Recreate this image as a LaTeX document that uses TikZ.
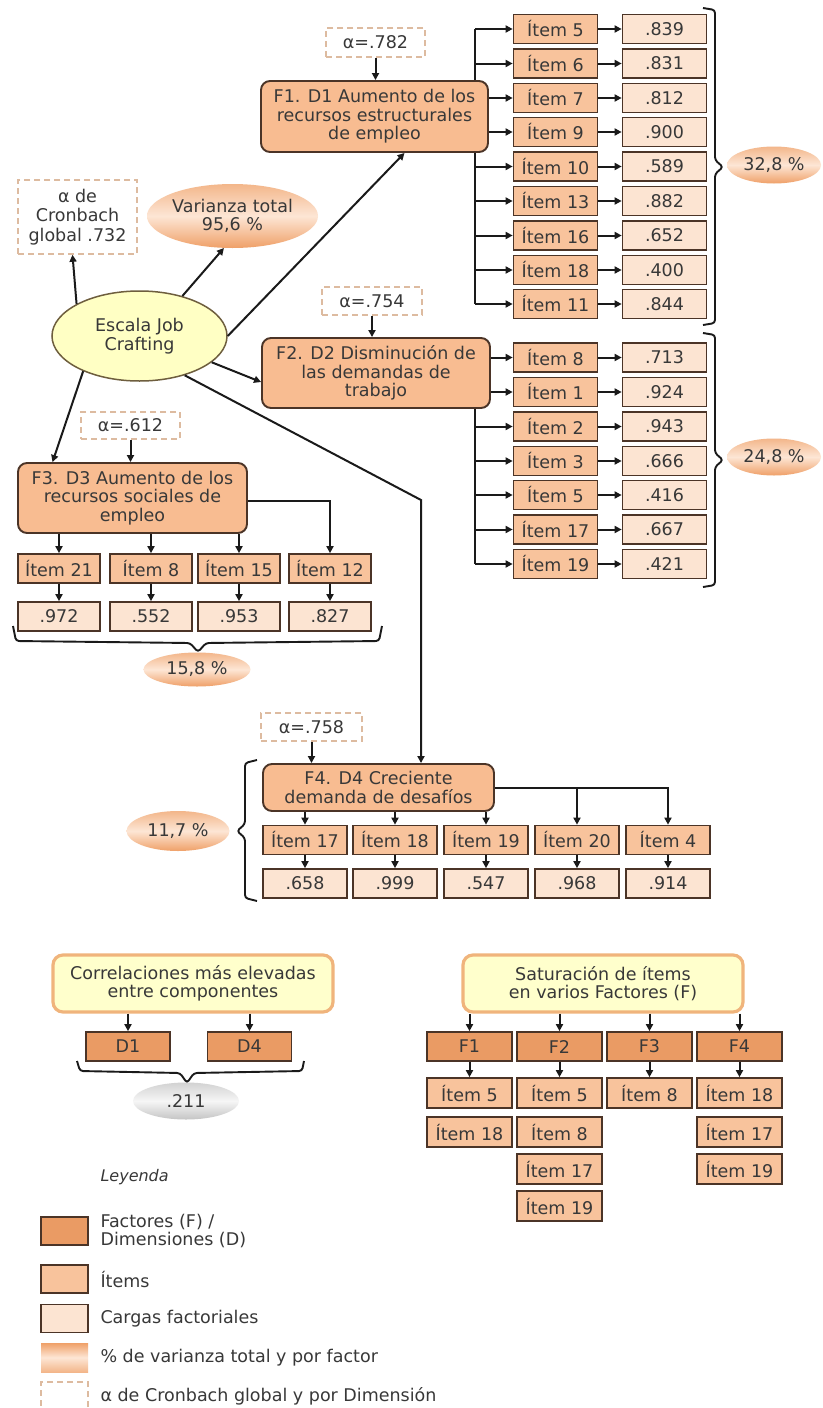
\documentclass[tikz,border=0pt]{standalone}
\usepackage{fontspec}
\setmainfont{DejaVu Sans}
\usepackage{tikz}
\usetikzlibrary{shapes.geometric,arrows.meta}

\definecolor{txtc}{HTML}{383838}
\definecolor{linec}{HTML}{1A1A1A}
\definecolor{brd}{HTML}{4B3427}
\definecolor{facfill}{HTML}{F8BC91}
\definecolor{dimfill}{HTML}{EA9B64}
\definecolor{itemfill}{HTML}{F8C39C}
\definecolor{loadfill}{HTML}{FCE4D2}
\definecolor{dashc}{HTML}{DDBBA0}
\definecolor{pcttop}{HTML}{F3B68A}
\definecolor{pctmid}{HTML}{FDE6D5}
\definecolor{pctbot}{HTML}{EFA068}
\definecolor{graytop}{HTML}{D2D2D2}
\definecolor{graymid}{HTML}{F6F6F6}
\definecolor{graybot}{HTML}{C4C4C4}
\definecolor{rootfill}{HTML}{FFFFC4}
\definecolor{rootbrd}{HTML}{6E5E3E}
\definecolor{ttlfill}{HTML}{FFFFCC}
\definecolor{ttlbrd}{HTML}{F0B47C}

\tikzset{
  factor/.style={draw=brd, line width=1.9pt, fill=facfill, rounded corners=9pt, align=center, inner sep=0pt},
  dimbox/.style={draw=brd, line width=1.7pt, fill=dimfill, minimum width=85pt, minimum height=29pt, inner sep=0pt},
  item/.style={draw=brd, line width=1.7pt, fill=itemfill, minimum width=84pt, minimum height=29pt, inner sep=0pt},
  load/.style={draw=brd, line width=1.7pt, fill=loadfill, minimum width=84pt, minimum height=29pt, inner sep=0pt},
  alpha/.style={draw=dashc, dash pattern=on 6pt off 4pt, line width=1.5pt, fill=white, align=center, inner sep=0pt},
  pct/.style={ellipse, inner sep=0pt, align=center, top color=pcttop, bottom color=pctbot, middle color=pctmid},
  root/.style={ellipse, draw=rootbrd, line width=1.5pt, fill=rootfill, align=center, inner sep=0pt},
  ttl/.style={draw=ttlbrd, line width=3.2pt, fill=ttlfill, rounded corners=10pt, align=center, minimum width=280pt, minimum height=57pt, inner sep=0pt},
  arr/.style={draw=linec, line width=2pt, -{Triangle[length=7pt,width=7pt]}},
  conn/.style={draw=linec, line width=2pt},
  brk/.style={draw=linec, line width=1.9pt, rounded corners=3pt},
  legtxt/.style={anchor=west, align=left}
}

\begin{document}
\begin{tikzpicture}[x=1pt,y=-1pt,font=\fontsize{17.5}{18.5}\selectfont,text=txtc]

        \useasboundingbox (0,0) rectangle (822,1408);
        \fill [white] (0,0) rectangle (822,1408);

        %Scale
        \node [root, minimum width=175pt, minimum height=90pt] (esc) at (139.5,336) {Escala Job\\Crafting};
        \node [alpha, minimum width=119pt, minimum height=74pt, font=\fontsize{17.5}{19.5}\selectfont] (aglob) at (77.5,217) {α de\\Cronbach\\global .732};
        \node [pct, minimum width=171pt, minimum height=64pt] (vtot) at (232.5,216) {Varianza total\\95,6 \%};

        %Factor 1
        \node [alpha, minimum width=99pt, minimum height=29pt] (a1) at (375.5,42.5) {α=.782};
        \node [factor, minimum width=227pt, minimum height=71pt] (F1) at (374.5,116.5) {F1. D1 Aumento de los\\recursos estructurales\\de empleo};
        \node [item] (f1i1) at (555.5,29) {Ítem 5};
        \node [item] (f1i2) at (555.5,63.5) {Ítem 6};
        \node [item] (f1i3) at (555.5,98) {Ítem 7};
        \node [item] (f1i4) at (555.5,132) {Ítem 9};
        \node [item] (f1i5) at (555.5,166.5) {Ítem 10};
        \node [item] (f1i6) at (555.5,201) {Ítem 13};
        \node [item] (f1i7) at (555.5,235.5) {Ítem 16};
        \node [item] (f1i8) at (555.5,270) {Ítem 18};
        \node [item] (f1i9) at (555.5,304) {Ítem 11};
        \node [load] (f1v1) at (664.5,29) {.839};
        \node [load] (f1v2) at (664.5,63.5) {.831};
        \node [load] (f1v3) at (664.5,98) {.812};
        \node [load] (f1v4) at (664.5,132) {.900};
        \node [load] (f1v5) at (664.5,166.5) {.589};
        \node [load] (f1v6) at (664.5,201) {.882};
        \node [load] (f1v7) at (664.5,235.5) {.652};
        \node [load] (f1v8) at (664.5,270) {.400};
        \node [load] (f1v9) at (664.5,304) {.844};
        \node [pct, minimum width=94pt, minimum height=37pt] (p1) at (774,165) {32,8 \%};

        %Factor 2
        \node [alpha, minimum width=100pt, minimum height=28pt] (a2) at (372,301) {α=.754};
        \node [factor, minimum width=228pt, minimum height=70pt] (F2) at (376,373) {F2. D2 Disminución de\\las demandas de\\trabajo};
        \node [item] (f2i1) at (555.5,357.5) {Ítem 8};
        \node [item] (f2i2) at (555.5,392) {Ítem 1};
        \node [item] (f2i3) at (555.5,426.5) {Ítem 2};
        \node [item] (f2i4) at (555.5,461) {Ítem 3};
        \node [item] (f2i5) at (555.5,495) {Ítem 5};
        \node [item] (f2i6) at (555.5,529.5) {Ítem 17};
        \node [item] (f2i7) at (555.5,564) {Ítem 19};
        \node [load] (f2v1) at (664.5,357.5) {.713};
        \node [load] (f2v2) at (664.5,392) {.924};
        \node [load] (f2v3) at (664.5,426.5) {.943};
        \node [load] (f2v4) at (664.5,461) {.666};
        \node [load] (f2v5) at (664.5,495) {.416};
        \node [load] (f2v6) at (664.5,529.5) {.667};
        \node [load] (f2v7) at (664.5,564) {.421};
        \node [pct, minimum width=94pt, minimum height=37pt] (p2) at (774,457) {24,8 \%};

        %Factor 3
        \node [alpha, minimum width=99pt, minimum height=27pt] (a3) at (130.5,425.5) {α=.612};
        \node [factor, minimum width=229pt, minimum height=70pt] (F3) at (132.5,498) {F3. D3 Aumento de los\\recursos sociales de\\empleo};
        \node [item, minimum width=82pt] (f3i1) at (59,568.5) {Ítem 21};
        \node [item, minimum width=82pt] (f3i2) at (151,568.5) {Ítem 8};
        \node [item, minimum width=82pt] (f3i3) at (239,568.5) {Ítem 15};
        \node [item, minimum width=82pt] (f3i4) at (330,568.5) {Ítem 12};
        \node [load, minimum width=82pt] (f3v1) at (59,616.5) {.972};
        \node [load, minimum width=82pt] (f3v2) at (151,616.5) {.552};
        \node [load, minimum width=82pt] (f3v3) at (239,616.5) {.953};
        \node [load, minimum width=82pt] (f3v4) at (330,616.5) {.827};
        \node [pct, minimum width=107pt, minimum height=34pt] (p3) at (197,669.5) {15,8 \%};

        %Factor 4
        \node [alpha, minimum width=101pt, minimum height=28pt] (a4) at (311.5,727) {α=.758};
        \node [factor, minimum width=231pt, minimum height=47pt] (F4) at (378.5,787.5) {F4. D4 Creciente\\demanda de desafíos};
        \node [item] (f4i1) at (305,840) {Ítem 17};
        \node [item] (f4i2) at (395,840) {Ítem 18};
        \node [item] (f4i3) at (486,840) {Ítem 19};
        \node [item] (f4i4) at (577,840) {Ítem 20};
        \node [item] (f4i5) at (668,840) {Ítem 4};
        \node [load] (f4v1) at (305,883.5) {.658};
        \node [load] (f4v2) at (395,883.5) {.999};
        \node [load] (f4v3) at (486,883.5) {.547};
        \node [load] (f4v4) at (577,883.5) {.968};
        \node [load] (f4v5) at (668,883.5) {.914};
        \node [pct, minimum width=103pt, minimum height=40pt] (p4) at (178,831) {11,7 \%};

        %Connectors from the scale
        \coordinate (bend) at (421,500);
        \draw [arr] (esc.153) -- ([xshift=-5pt]aglob.south);
        \draw [arr] (esc.43) -- (vtot.255);
        \draw [arr] (esc.east) -- ([xshift=30pt]F1.south);
        \draw [arr] (esc.-20) -- ([yshift=-9pt]F2.west);
        \draw [arr] (esc.212) -- ([xshift=-80pt]F3.north);
        \draw [arr] (esc.-41) -- (bend) -- (bend |- F4.north);

        %Connectors factor 1
        \coordinate (t1) at (475,29);
        \draw [arr] (a1.south) -- (a1.south |- F1.north);
        \draw [conn] (t1) -- (t1 |- F1.north);
        \draw [conn] (t1 |- F1.south) -- (t1 |- f1i9);
        \draw [arr] (t1) -- (f1i1.west);
        \draw [arr] (t1 |- f1i2) -- (f1i2.west);
        \draw [arr] (F1.east |- f1i3) -- (f1i3.west);
        \draw [arr] (F1.east |- f1i4) -- (f1i4.west);
        \draw [arr] (t1 |- f1i5) -- (f1i5.west);
        \draw [arr] (t1 |- f1i6) -- (f1i6.west);
        \draw [arr] (t1 |- f1i7) -- (f1i7.west);
        \draw [arr] (t1 |- f1i8) -- (f1i8.west);
        \draw [arr] (t1 |- f1i9) -- (f1i9.west);
        \draw [arr] (f1i1) -- (f1v1);
        \draw [arr] (f1i2.east) -- (f1v2.west);
        \draw [arr] (f1i3.east) -- (f1v3.west);
        \draw [arr] (f1i4.east) -- (f1v4.west);
        \draw [arr] (f1i5.east) -- (f1v5.west);
        \draw [arr] (f1i6.east) -- (f1v6.west);
        \draw [arr] (f1i7.east) -- (f1v7.west);
        \draw [arr] (f1i8.east) -- (f1v8.west);
        \draw [arr] (f1i9.east) -- (f1v9.west);
        \draw [brk] (703,8) -- (715,10) -- (715,160) -- (723,167) -- (715,174) -- (715,323) -- (703,325);

        %Connectors factor 2
        \coordinate (t2) at (475,408);
        \draw [arr] (a2.south) -- (a2.south |- F2.north);
        \draw [conn] (t2 |- F2.south) -- (t2 |- f2i7);
        \draw [arr] (F2.east |- f2i1) -- (f2i1.west);
        \draw [arr] (F2.east |- f2i2) -- (f2i2.west);
        \draw [arr] (t2 |- f2i3) -- (f2i3.west);
        \draw [arr] (t2 |- f2i4) -- (f2i4.west);
        \draw [arr] (t2 |- f2i5) -- (f2i5.west);
        \draw [arr] (t2 |- f2i6) -- (f2i6.west);
        \draw [arr] (t2 |- f2i7) -- (f2i7.west);
        \draw [arr] (f2i1.east) -- (f2v1.west);
        \draw [arr] (f2i2.east) -- (f2v2.west);
        \draw [arr] (f2i3.east) -- (f2v3.west);
        \draw [arr] (f2i4.east) -- (f2v4.west);
        \draw [arr] (f2i5.east) -- (f2v5.west);
        \draw [arr] (f2i6.east) -- (f2v6.west);
        \draw [arr] (f2i7.east) -- (f2v7.west);
        \draw [brk] (703,333) -- (715,335) -- (715,453) -- (723,460) -- (715,467) -- (715,585) -- (703,587);

        %Connectors factor 3
        \draw [arr] (a3.south) -- (a3.south |- F3.north);
        \draw [arr] (F3.south -| f3i1) -- (f3i1.north);
        \draw [arr] (F3.south -| f3i2) -- (f3i2.north);
        \draw [arr] (F3.south -| f3i3) -- (f3i3.north);
        \draw [arr] ([yshift=-3pt]F3.east) -| (f3i4.north);
        \draw [arr] (f3i1.south) -- (f3v1.north);
        \draw [arr] (f3i2.south) -- (f3v2.north);
        \draw [arr] (f3i3.south) -- (f3v3.north);
        \draw [arr] (f3i4.south) -- (f3v4.north);
        \draw [brk] (13,626) -- (16,641) -- (190,643) -- (198,652) -- (206,643) -- (379,641) -- (382,626);

        %Connectors factor 4
        \draw [arr] (a4.south) -- (a4.south |- F4.north);
        \draw [arr] (F4.south -| f4i1) -- (f4i1.north);
        \draw [arr] (F4.south -| f4i2) -- (f4i2.north);
        \draw [arr] (F4.south -| f4i3) -- (f4i3.north);
        \draw [arr] (F4.east) -| (f4i5.north);
        \draw [arr] (F4.east -| f4i4) -- (f4i4.north);
        \draw [arr] (f4i1.south) -- (f4v1.north);
        \draw [arr] (f4i2.south) -- (f4v2.north);
        \draw [arr] (f4i3.south) -- (f4v3.north);
        \draw [arr] (f4i4.south) -- (f4v4.north);
        \draw [arr] (f4i5.south) -- (f4v5.north);
        \draw [brk] (257,760) -- (245,763) -- (245,824) -- (237,831) -- (245,838) -- (245,898) -- (257,901);

        %Correlations
        \node [ttl] (corr) at (193,983.5) {Correlaciones más elevadas\\entre componentes};
        \node [dimbox, minimum width=84pt] (d1) at (128,1046.5) {D1};
        \node [dimbox, minimum width=84pt] (d4) at (249.5,1046.5) {D4};
        \node [ellipse, minimum width=106pt, minimum height=37pt, inner sep=0pt, top color=graytop, bottom color=graybot, middle color=graymid] (rcor) at (186,1101) {.211};
        \draw [arr] (corr.south -| d1) -- (d1.north);
        \draw [arr] (corr.south -| d4) -- (d4.north);
        \draw [brk] (77,1061) -- (80,1071) -- (180,1073) -- (187,1083) -- (194,1073) -- (302,1071) -- (304,1061);

        %Saturation
        \node [ttl] (sat) at (603,983.5) {Saturación de ítems\\en varios Factores (F)};
        \node [dimbox] (sf1) at (469.5,1046.5) {F1};
        \node [dimbox] (sf2) at (559.5,1046.5) {F2};
        \node [dimbox] (sf3) at (649.5,1046.5) {F3};
        \node [dimbox] (sf4) at (739.5,1046.5) {F4};
        \node [item, minimum width=85pt, minimum height=30pt] (s1a) at (469.5,1093) {Ítem 5};
        \node [item, minimum width=85pt, minimum height=30pt] (s1b) at (469.5,1132) {Ítem 18};
        \node [item, minimum width=85pt, minimum height=30pt] (s2a) at (559.5,1093) {Ítem 5};
        \node [item, minimum width=85pt, minimum height=30pt] (s2b) at (559.5,1132) {Ítem 8};
        \node [item, minimum width=85pt, minimum height=30pt] (s2c) at (559.5,1169) {Ítem 17};
        \node [item, minimum width=85pt, minimum height=30pt] (s2d) at (559.5,1206) {Ítem 19};
        \node [item, minimum width=85pt, minimum height=30pt] (s3a) at (649.5,1093) {Ítem 8};
        \node [item, minimum width=85pt, minimum height=30pt] (s4a) at (739.5,1093) {Ítem 18};
        \node [item, minimum width=85pt, minimum height=30pt] (s4b) at (739.5,1132) {Ítem 17};
        \node [item, minimum width=85pt, minimum height=30pt] (s4c) at (739.5,1169) {Ítem 19};
        \draw [arr] (sat.south -| sf1) -- (sf1.north);
        \draw [arr] (sat.south -| sf2) -- (sf2.north);
        \draw [arr] (sat.south -| sf3) -- (sf3.north);
        \draw [arr] (sat.south -| sf4) -- (sf4.north);
        \draw [arr] (sf1.south) -- (s1a.north);
        \draw [arr] (sf2.south) -- (s2a.north);
        \draw [arr] (sf3.south) -- (s3a.north);
        \draw [arr] (sf4.south) -- (s4a.north);

        %Legend
        \node [anchor=west, font=\fontsize{16}{18}\selectfont\itshape] (leg) at (97,1177) {Leyenda};
        \node [dimbox, minimum width=47pt, minimum height=28pt] (lg1) at (64.5,1231) {};
        \node [legtxt] (lt1) at (97,1231) {Factores (F) /\\Dimensiones (D)};
        \node [item, minimum width=47pt, minimum height=28pt] (lg2) at (64.5,1279) {};
        \node [legtxt] (lt2) at (97,1279) {Ítems};
        \node [load, minimum width=47pt, minimum height=28pt] (lg3) at (64.5,1318.5) {};
        \node [legtxt] (lt3) at (97,1318.5) {Cargas factoriales};
        \node [minimum width=47pt, minimum height=29pt, inner sep=0pt, top color=pctbot, bottom color=pcttop, middle color=pctmid] (lg4) at (64.5,1357.5) {};
        \node [legtxt] (lt4) at (97,1357.5) {\% de varianza total y por factor};
        \node [alpha, minimum width=47pt, minimum height=28pt] (lg5) at (64.5,1396) {};
        \node [legtxt] (lt5) at (97,1396) {α de Cronbach global y por Dimensión};

\end{tikzpicture}
\end{document}
